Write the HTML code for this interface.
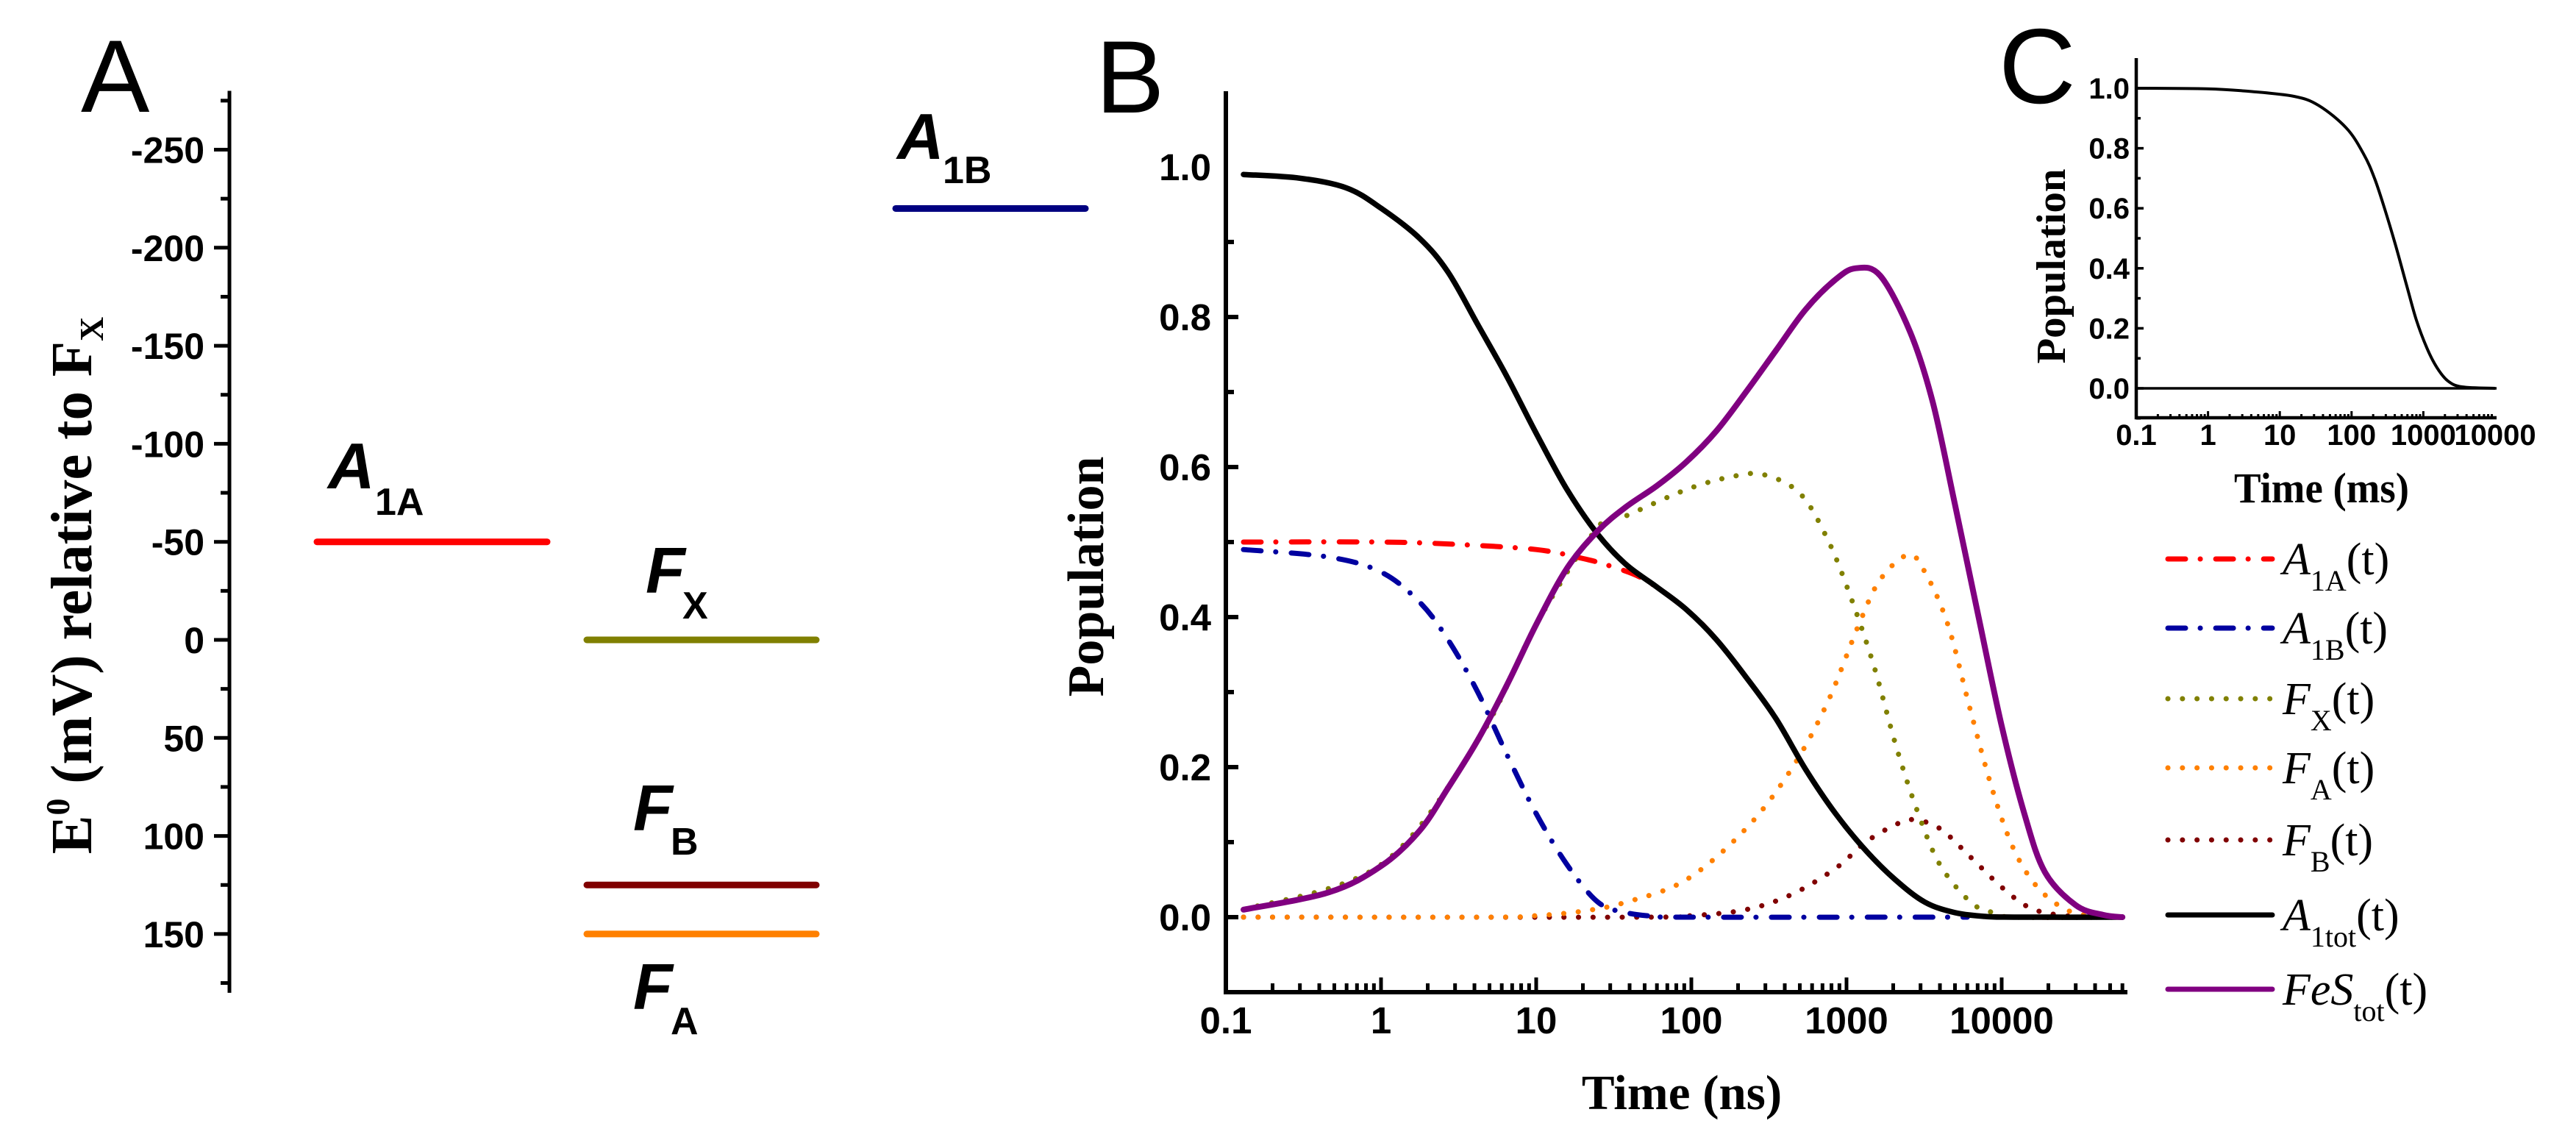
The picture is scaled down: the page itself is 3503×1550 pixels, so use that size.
<!DOCTYPE html>
<html><head><meta charset="utf-8"><style>
html,body{margin:0;padding:0;background:#fff;}
svg{display:block;}
.sans{font-family:"Liberation Sans",Arial,sans-serif;}
.serif{font-family:"Liberation Serif","Times New Roman",serif;}
</style></head><body>
<svg id="fig" xmlns="http://www.w3.org/2000/svg" width="3503" height="1550" viewBox="0 0 3503 1550">
<rect width="3503" height="1550" fill="#fff"/>
<g id="panelA"></g>
<g id="panelB"></g>
<g id="panelC"></g>
<g id="legend"></g>
</svg>
<script>
// ---------- Panel A data ----------
const aTicks = [-250,-200,-150,-100,-50,0,50,100,150];
const aLevelNames = ["A1A","A1B","FX","FB","FA"];
const aLevelValues = [-50,-220,0,125,150];
const aLevelColors = ["#ff0000","#000080","#808000","#800000","#ff8000"];

// ---------- Panel B data (time in ns) ----------
const bXTicks = [0.1,1,10,100,1000,10000];
const bXTickLabels = ["0.1","1","10","100","1000","10000"];
const bYTicks = [0,0.2,0.4,0.6,0.8,1.0];
const bYTickLabels = ["0.0","0.2","0.4","0.6","0.8","1.0"];
const tA1A = [0.13,1,3,10,20,30,50,93,145,225,350,545,850,1330,2060,3200,5000,7800,12000,60000];
const vA1A = [0.5,0.5,0.497,0.49,0.478,0.468,0.45,0.41,0.37,0.32,0.265,0.197,0.138,0.089,0.05,0.02,0.006,0.001,0,0];
const tA1B = [0.13,0.46,1,1.77,2.7,4.2,6.5,10,15.8,25,38,60,100,6000];
const vA1B = [0.49,0.48,0.46,0.42,0.37,0.30,0.216,0.138,0.07,0.02,0.006,0.001,0,0];
const tFX = [0.13,1,4.2,10,25,38,93,180,290,500,750,1050,1500,2100,2900,4000,6300,8800,12000,60000];
const vFX = [0.01,0.07,0.235,0.39,0.52,0.535,0.57,0.587,0.59,0.565,0.505,0.43,0.335,0.226,0.138,0.07,0.02,0.006,0,0];
const tFA = [0.13,5,10,20,38,93,225,440,750,1200,1650,2500,3200,4500,6300,8800,12000,17000,26000,40000,60000];
const vFA = [0,0,0.002,0.008,0.02,0.05,0.118,0.197,0.285,0.39,0.45,0.483,0.46,0.39,0.275,0.167,0.09,0.04,0.01,0.001,0];
const tFB = [0.13,50,100,225,440,850,1330,2060,2700,4000,6300,10000,15000,23000,40000,60000];
const vFB = [0,0,0.002,0.01,0.03,0.065,0.1,0.123,0.13,0.118,0.08,0.04,0.013,0.003,0,0];
const tA1tot = [0.13,0.3,0.6,1,1.77,2.7,4.2,6.5,10,15.8,25,38,60,93,145,225,350,545,850,1330,2060,3200,5000,7800,12000,60000];
const vA1tot = [0.99,0.985,0.972,0.945,0.905,0.86,0.79,0.72,0.645,0.57,0.51,0.47,0.44,0.41,0.37,0.32,0.265,0.197,0.138,0.089,0.05,0.02,0.006,0.001,0,0];
const tFeS = [0.13,0.46,1,1.77,2.7,4.2,6.5,10,15.8,25,38,60,93,145,225,350,545,850,1150,1650,2570,3600,5000,7100,10000,14000,19000,30000,45000,60000];
const vFeS = [0.01,0.033,0.068,0.115,0.172,0.236,0.31,0.39,0.465,0.515,0.547,0.575,0.607,0.648,0.70,0.755,0.81,0.85,0.865,0.855,0.78,0.686,0.55,0.40,0.255,0.138,0.06,0.016,0.003,0];

// ---------- Panel C data (time in ms) ----------
const cXTicks = [0.1,1,10,100,1000,10000];
const cXTickLabels = ["0.1","1","10","100","1000","10000"];
const cYTicks = [0,0.2,0.4,0.6,0.8,1.0];
const cYTickLabels = ["0.0","0.2","0.4","0.6","0.8","1.0"];
const tC = [0.1,0.96,4.1,15.8,34.7,85,148,209,288,407,575,794,1122,1549,2188,3467,10000];
const vC = [1.0,0.998,0.989,0.973,0.943,0.867,0.78,0.70,0.60,0.48,0.35,0.23,0.134,0.069,0.025,0.005,0];

const NS = "http://www.w3.org/2000/svg";
function mk(tag, attrs, parent){
  const e = document.createElementNS(NS, tag);
  for (const k in attrs) e.setAttribute(k, attrs[k]);
  parent.appendChild(e);
  return e;
}
function smoothPath(pts){
  let d = "M" + pts[0][0].toFixed(1) + "," + pts[0][1].toFixed(1);
  for (let i = 0; i < pts.length - 1; i++){
    const p0 = pts[Math.max(0,i-1)], p1 = pts[i], p2 = pts[i+1], p3 = pts[Math.min(pts.length-1,i+2)];
    const c1x = p1[0] + (p2[0]-p0[0])/6, c1y = p1[1] + (p2[1]-p0[1])/6;
    const c2x = p2[0] - (p3[0]-p1[0])/6, c2y = p2[1] - (p3[1]-p1[1])/6;
    d += " C" + c1x.toFixed(1) + "," + c1y.toFixed(1) + " " + c2x.toFixed(1) + "," + c2y.toFixed(1) + " " + p2[0].toFixed(1) + "," + p2[1].toFixed(1);
  }
  return d;
}

// ===== Panel A =====
const A = document.getElementById("panelA");
const aX = 312;
function aY(v){ return 870 + v * 133.3 / 50; }
let e;
e = mk("text", {x:110, y:152, "font-size":140, class:"sans"}, A); e.textContent = "A";


e = mk("line", {x1:aX, y1:aY(-280), x2:aX, y2:aY(180), stroke:"#000", "stroke-width":5}, A);


for (let v = -275; v <= 175; v += 25){
  const major = aTicks.indexOf(v) >= 0;
  e = mk("line", {x1:aX, y1:aY(v), x2:aX - (major ? 21 : 12), y2:aY(v), stroke:"#000", "stroke-width":5}, A);
  
  
}
aTicks.forEach(v => {
  const t = mk("text", {x:278, y:aY(v)+18, "font-size":50, "font-weight":"bold", "text-anchor":"end", class:"sans"}, A);
  t.textContent = String(v);
  
  
});
e = mk("text", {transform:"translate(124,796) rotate(-90)", "font-size":79, "font-weight":"bold", "text-anchor":"middle", class:"serif"}, A);
e.innerHTML = 'E<tspan font-size="46" dy="-30">0</tspan><tspan dy="30"> (mV) relative to F</tspan><tspan font-size="46" dy="16">X</tspan>';


const aLevelX = [[431,744],[1218,1476],[798,1110],[798,1110],[798,1110]];
aLevelNames.forEach((n,i) => {
  const l = mk("line", {x1:aLevelX[i][0], y1:aY(aLevelValues[i]), x2:aLevelX[i][1], y2:aY(aLevelValues[i]), stroke:aLevelColors[i], "stroke-width":9, "stroke-linecap":"round"}, A);
  
  
});
const aLabels = [["A","1A",446,664,510,700],["A","1B",1220,216,1282,249],["F","X",878,806,928,841],["F","B",861,1129,912,1162],["F","A",861,1372,912,1406]];
aLabels.forEach(L => {
  const g = mk("g", {}, A);
  
  
  const t1 = mk("text", {x:L[2], y:L[3], "font-size":88, "font-weight":"bold", "font-style":"italic", class:"sans"}, g); t1.textContent = L[0];
  const t2 = mk("text", {x:L[4], y:L[5], "font-size":52, "font-weight":"bold", class:"sans"}, g); t2.textContent = L[1];
});

// ===== Panel B =====
const B = document.getElementById("panelB");
const bX0 = 1667, bDec = 211, bYb = 1349, bYt = 124, bXr = 2893;
function bx(t){ return bX0 + (Math.log10(t) + 1) * bDec; }
function by(v){ return 1247 - v * 1020; }
e = mk("text", {x:1490, y:153, "font-size":140, class:"sans"}, B); e.textContent = "B";


e = mk("path", {d:`M${bX0},${bYt} L${bX0},${bYb} L${bXr},${bYb}`, fill:"none", stroke:"#000", "stroke-width":6}, B);


for (let k = 0; k <= 10; k++){
  const v = -0.1 + k * 0.1; const major = (k % 2 === 1);
  e = mk("line", {x1:bX0, y1:by(v), x2:bX0 + (major ? 17 : 11), y2:by(v), stroke:"#000", "stroke-width":6}, B);
  
  
}
for (let d = -1; d <= 4; d++){
  for (let m = 1; m <= 9; m++){
    const t = m * Math.pow(10, d); const x = bx(t);
    if (x > bXr) break;
    e = mk("line", {x1:x, y1:bYb, x2:x, y2:bYb - (m === 1 ? 20 : 12), stroke:"#000", "stroke-width":5}, B);
    
    
  }
}
bYTicks.forEach((v,i) => {
  const t = mk("text", {x:1647, y:by(v)+18, "font-size":51, "font-weight":"bold", "text-anchor":"end", class:"sans"}, B);
  t.textContent = bYTickLabels[i];
  
  
});
bXTicks.forEach((v,i) => {
  const t = mk("text", {x:bx(v), y:1405, "font-size":51, "font-weight":"bold", "text-anchor":"middle", class:"sans"}, B);
  t.textContent = bXTickLabels[i];
  
  
});
e = mk("text", {transform:"translate(1500,784) rotate(-90)", "font-size":70, "font-weight":"bold", "text-anchor":"middle", class:"serif"}, B);
e.textContent = "Population";


e = mk("text", {x:2287, y:1508, "font-size":67, "font-weight":"bold", "text-anchor":"middle", class:"serif"}, B);
e.textContent = "Time (ns)";



const dashDot = "24 20 0.1 21", dotted = "0.1 19.7";
const series = [
  {n:"fb", t:tFB, v:vFB, c:"#800000", w:7, da:dotted},
  {n:"fa", t:tFA, v:vFA, c:"#ff8000", w:7, da:dotted},
  {n:"fx", t:tFX, v:vFX, c:"#808000", w:7, da:dotted},
  {n:"a1b", t:tA1B, v:vA1B, c:"#0000a0", w:7, da:dashDot},
  {n:"a1a", t:tA1A, v:vA1A, c:"#ff0000", w:7, da:dashDot},
  {n:"a1tot", t:tA1tot, v:vA1tot, c:"#000000", w:7.5, da:null},
  {n:"festot", t:tFeS, v:vFeS, c:"#800080", w:8, da:null}
];
series.forEach(s => {
  const pts = s.t.map((t,i) => [bx(t), by(s.v[i])]);
  const attrs = {d:smoothPath(pts), fill:"none", stroke:s.c, "stroke-width":s.w, "stroke-linecap":"round", "stroke-linejoin":"round"};
  if (s.da) attrs["stroke-dasharray"] = s.da;
  const p = mk("path", attrs, B);
  
  
});

// ===== Panel C =====
const C = document.getElementById("panelC");
const cX0 = 2905, cDec = 97.6, cYb = 568, cYt = 79, cXr = 3395;
function cx(t){ return cX0 + (Math.log10(t) + 1) * cDec; }
function cy(v){ return 528 - v * 408; }
e = mk("text", {x:2718, y:140, "font-size":145, class:"sans"}, C); e.textContent = "C";


e = mk("path", {d:`M${cX0},${cYt} L${cX0},${cYb} L${cXr},${cYb}`, fill:"none", stroke:"#000", "stroke-width":4.5}, C);


for (let k = 0; k <= 10; k++){
  const v = -0.1 + k * 0.1; const major = (k % 2 === 1);
  e = mk("line", {x1:cX0, y1:cy(v), x2:cX0 + (major ? 10 : 6), y2:cy(v), stroke:"#000", "stroke-width":3.5}, C);
  
  
}
for (let d = -1; d <= 3; d++){
  for (let m = 1; m <= 9; m++){
    const x = cx(m * Math.pow(10, d));
    e = mk("line", {x1:x, y1:cYb, x2:x, y2:cYb - (m === 1 ? 9 : 5), stroke:"#000", "stroke-width":3}, C);
    
    
  }
}
e = mk("line", {x1:cX0, y1:cy(0), x2:cXr, y2:cy(0), stroke:"#000", "stroke-width":3.5}, C);


cYTicks.forEach((v,i) => {
  const t = mk("text", {x:2896, y:cy(v)+14, "font-size":40, "font-weight":"bold", "text-anchor":"end", class:"sans"}, C);
  t.textContent = cYTickLabels[i];
  
  
});
cXTicks.forEach((v,i) => {
  const t = mk("text", {x:cx(v), y:605, "font-size":40, "font-weight":"bold", "text-anchor":"middle", class:"sans"}, C);
  t.textContent = cXTickLabels[i];
  
  
});
e = mk("text", {transform:"translate(2808,362) rotate(-90)", "font-size":56, "font-weight":"bold", "text-anchor":"middle", "textLength":265, "lengthAdjust":"spacingAndGlyphs", class:"serif"}, C);
e.textContent = "Population";


e = mk("text", {x:3157, y:683, "font-size":58, "font-weight":"bold", "text-anchor":"middle", "textLength":238, "lengthAdjust":"spacingAndGlyphs", class:"serif"}, C);
e.textContent = "Time (ms)";


e = mk("path", {d:smoothPath(tC.map((t,i) => [cx(t), cy(vC[i])])), fill:"none", stroke:"#000", "stroke-width":4, "stroke-linejoin":"round"}, C);



// ===== Legend =====
const LG = document.getElementById("legend");
const legMain = ["A","A","F","F","F","A","FeS"];
const legSub = ["1A","1B","X","A","B","1tot","tot"];
const legY = [760,854,950,1044,1142,1244,1345];
const legOrder = ["a1a","a1b","fx","fa","fb","a1tot","festot"];
legOrder.forEach((n,i) => {
  const s = series.find(q => q.n === n);
  const g = mk("g", {}, LG);
  
  
  const la = {x1:2948, y1:legY[i], x2:3090, y2:legY[i], stroke:s.c, "stroke-width":7, "stroke-linecap":"round"};
  if (s.da) la["stroke-dasharray"] = s.da;
  mk("line", la, g);
  const t = mk("text", {x:3104, y:legY[i]+21, "font-size":62, class:"serif"}, g);
  t.innerHTML = '<tspan font-style="italic">' + legMain[i] + '</tspan><tspan font-size="40" dy="22">' + legSub[i] + '</tspan><tspan dy="-22">(t)</tspan>';
});
</script>
</body></html>
